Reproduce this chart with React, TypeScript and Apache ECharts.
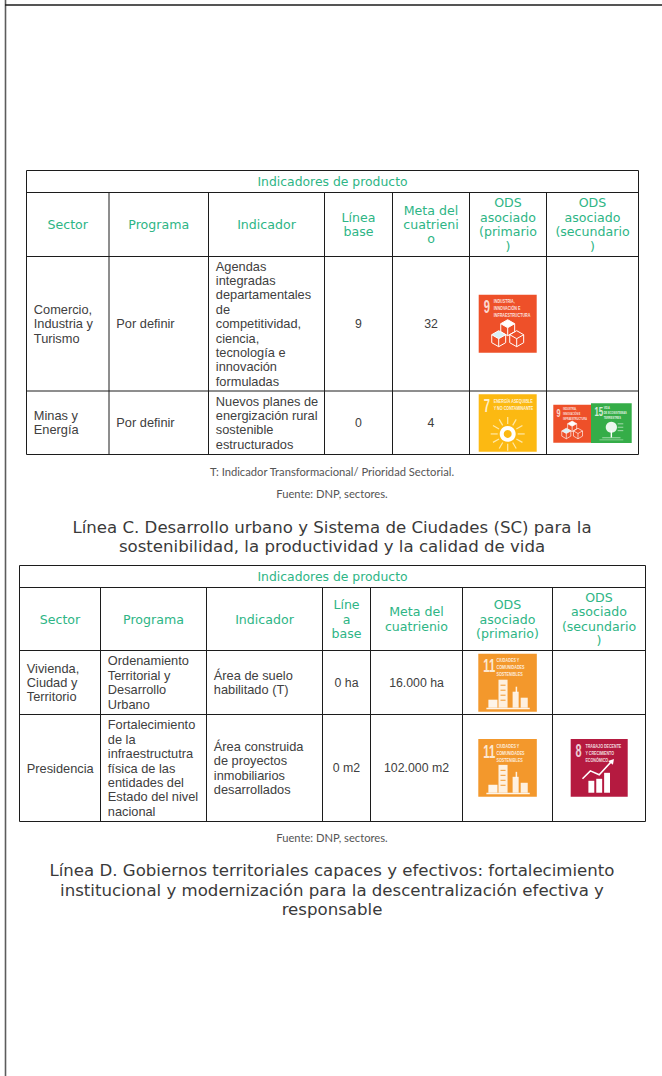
import React, { useEffect, useRef } from "react";
import * as echarts from "echarts";

// ---- content ----
const tableTitle = "Indicadores de producto";
const headers1 = ["Sector", "Programa", "Indicador", "Línea\nbase", "Meta del\ncuatrieni\no", "ODS\nasociado\n(primario\n)", "ODS\nasociado\n(secundario\n)"];
const headers2 = ["Sector", "Programa", "Indicador", "Líne\na\nbase", "Meta del\ncuatrienio", "ODS\nasociado\n(primario)", "ODS\nasociado\n(secundario\n)"];
const rows1 = [
  ["Comercio,\nIndustria y\nTurismo", "Por definir", "Agendas\nintegradas\ndepartamentales\nde\ncompetitividad,\nciencia,\ntecnología e\ninnovación\nformuladas", "9", "32"],
  ["Minas y\nEnergía", "Por definir", "Nuevos planes de\nenergización rural\nsostenible\nestructurados", "0", "4"],
];
const rows2 = [
  ["Vivienda,\nCiudad y\nTerritorio", "Ordenamiento\nTerritorial y\nDesarrollo\nUrbano", "Área de suelo\nhabilitado (T)", "0 ha", "16.000 ha"],
  ["Presidencia", "Fortalecimiento\nde la\ninfraestructutra\nfísica de las\nentidades del\nEstado del nivel\nnacional", "Área construida\nde proyectos\ninmobiliarios\ndesarrollados", "0 m2", "102.000 m2"],
];
const headingC = ["Línea C. Desarrollo urbano y Sistema de Ciudades (SC) para la", "sostenibilidad, la productividad y la calidad de vida"];
const headingD = ["Línea D. Gobiernos territoriales capaces y efectivos: fortalecimiento", "institucional y modernización para la descentralización efectiva y", "responsable"];
const noteT = "T: Indicador Transformacional/ Prioridad Sectorial.";
const noteSource = "Fuente: DNP, sectores.";
const sdgNames: Record<string, string[]> = {
  "7": ["ENERGÍA ASEQUIBLE", "Y NO CONTAMINANTE"],
  "8": ["TRABAJO DECENTE", "Y CRECIMIENTO", "ECONÓMICO"],
  "9": ["INDUSTRIA,", "INNOVACIÓN E", "INFRAESTRUCTURA"],
  "11": ["CIUDADES Y", "COMUNIDADES", "SOSTENIBLES"],
  "15": ["VIDA", "DE ECOSISTEMAS", "TERRESTRES"],
};
const sdgColors: Record<string, string> = { "7": "#fcb912", "8": "#b51a40", "9": "#ee5029", "11": "#f3982c", "15": "#35ad48" };

// ---- layout ----
const GREEN = "#2eb585";
const BODY = "#404040";
const LINE = "#1c1c1c";
const BODY_FONT = "Liberation Sans";
const HEAD_FONT = "DejaVu Sans";
const NOTE_FONT = "Lato";
const BODY_SIZE = 12.8;
const NUM_SIZE = 12.3;
const HEAD_SIZE = 12.6;
const TITLE_SIZE = 12.4;
const HEADING_SIZE = 16.6;
const NOTE_SIZE = 11.2;
const LH = 14.4;

const xs1 = [26.5, 109, 208.5, 324.5, 392.5, 469.5, 546.5, 638.5];
const ys1 = [170.5, 192.5, 256.5, 391, 454.5];
const xs2 = [19.5, 100.5, 206.5, 322.5, 370.5, 462.5, 552.5, 645.5];
const ys2 = [565.5, 587.5, 650.5, 714.5, 821.5];

const line = (x1: number, y1: number, x2: number, y2: number, stroke = LINE, lineWidth = 1) => ({
  type: "line", silent: true, shape: { x1, y1, x2, y2 }, style: { stroke, lineWidth },
});

const textBlock = (str: string, x: number, cy: number, align: string, fill: string, size: number, family: string, lh = LH) => {
  const parts = str.split("\n");
  const top = cy - ((parts.length - 1) * lh) / 2;
  return parts.map((t, i) => ({
    type: "text", silent: true,
    style: { text: t, x, y: top + i * lh, align, verticalAlign: "middle", fill, fontSize: size, fontFamily: family },
  }));
};

function table(xs: number[], ys: number[], headers: string[], rows: string[][]) {
  const out: any[] = [];
  const L = xs[0], R = xs[xs.length - 1];
  ys.forEach((y) => out.push(line(L, y, R, y)));
  out.push(line(L, ys[0], L, ys[ys.length - 1]), line(R, ys[0], R, ys[ys.length - 1]));
  xs.slice(1, -1).forEach((x) => out.push(line(x, ys[1], x, ys[ys.length - 1])));
  out.push(...textBlock(tableTitle, (L + R) / 2, (ys[0] + ys[1]) / 2, "center", GREEN, TITLE_SIZE, HEAD_FONT));
  headers.forEach((h, i) => {
    out.push(...textBlock(h, (xs[i] + xs[i + 1]) / 2, (ys[1] + ys[2]) / 2, "center", GREEN, HEAD_SIZE, HEAD_FONT));
  });
  rows.forEach((row, r) => {
    const cy = (ys[r + 2] + ys[r + 3]) / 2;
    row.forEach((cell, c) => {
      if (c < 3) out.push(...textBlock(cell, xs[c] + 7.3, cy, "left", BODY, BODY_SIZE, BODY_FONT));
      else out.push(...textBlock(cell, (xs[c] + xs[c + 1]) / 2, cy, "center", BODY, NUM_SIZE, BODY_FONT));
    });
  });
  return out;
}

// Pictograms drawn in a 58-unit square.
function pictogram(id: string) {
  const W = "#ffffff";
  const fl = (x: number, y: number, w: number, h: number, o = 1) => ({ type: "rect", shape: { x, y, width: w, height: h }, style: { fill: W, opacity: o } });
  const poly = (pts: number[][], fill: string | null, lw = 1) => ({ type: "polyline", shape: { points: pts }, style: { stroke: W, lineWidth: lw, fill: fill || "none" } });
  const cube = (cx: number, cy: number, r: number, top: string | null) => {
    const d = r * 0.87, h = r * 0.5;
    return [
      { type: "polygon", shape: { points: [[cx, cy - r], [cx + d, cy - h], [cx, cy], [cx - d, cy - h]] }, style: { fill: top || "none", stroke: W, lineWidth: 1 } },
      poly([[cx - d, cy - h], [cx - d, cy + h], [cx, cy + r], [cx + d, cy + h], [cx + d, cy - h]], null),
      line(cx, cy, cx, cy + r, W, 1),
    ];
  };
  if (id === "9") return [...cube(29, 33, 8, "#ffffff"), ...cube(20, 44, 8, "#d9f0f7"), ...cube(38, 44, 8, null)];
  if (id === "7") {
    const rays: any[] = [];
    [0, 30, 60, 90, 120, 150, 180, 210, 240, 270, 300, 330].forEach((deg) => {
      const a = (deg * Math.PI) / 180;
      rays.push(line(29 + 10 * Math.cos(a), 40 + 10 * Math.sin(a), 29 + 17 * Math.cos(a), 40 + 17 * Math.sin(a), "#ffe9a8", 1.2));
    });
    return [...rays, { type: "ring", shape: { cx: 29, cy: 40, r: 8, r0: 4 }, style: { fill: W } }];
  }
  if (id === "11") return [
    fl(20, 26, 9, 28, 0.85), fl(34, 38, 6, 16, 0.85), fl(37, 33, 1.5, 6, 0.85),
    fl(10, 46, 9, 8, 0.9), fl(42, 44, 7, 10, 0.85), fl(8, 54, 43, 1.5, 0.9),
    { type: "rect", shape: { x: 22, y: 31, width: 5, height: 1 }, style: { fill: sdgColors["11"] } },
    { type: "rect", shape: { x: 22, y: 36, width: 5, height: 1 }, style: { fill: sdgColors["11"] } },
    { type: "rect", shape: { x: 22, y: 41, width: 5, height: 1 }, style: { fill: sdgColors["11"] } },
    { type: "rect", shape: { x: 22, y: 46, width: 5, height: 1 }, style: { fill: sdgColors["11"] } },
  ];
  if (id === "8") return [
    fl(18, 42, 6, 12), fl(26, 40, 6, 14), fl(34, 34, 6, 20),
    poly([[12, 40], [20, 32], [29, 36], [42, 22]], null, 1.6),
    { type: "polygon", shape: { points: [[38, 22], [44, 20], [43, 26]] }, style: { fill: W } },
  ];
  return [
    { type: "circle", shape: { cx: 29, cy: 35, r: 8 }, style: { fill: W, opacity: 0.9 } },
    fl(28, 40, 2, 10), fl(16, 50, 26, 1, 0.8), fl(12, 53, 34, 1, 0.6),
    line(38, 30, 46, 30, W, 0.8), line(38, 35, 46, 35, W, 0.8), line(38, 40, 46, 40, W, 0.8),
  ];
}

function sdgIcon(id: string, x: number, y: number, w: number, h: number) {
  const two = id.length > 1;
  return {
    type: "group", silent: true, x, y, scaleX: w / 58, scaleY: h / 58,
    children: [
      { type: "rect", shape: { x: 0, y: 0, width: 58, height: 58 }, style: { fill: sdgColors[id] } },
      {
        type: "text", x: 5, y: 12, scaleX: 0.62,
        style: { text: id, x: 0, y: 0, verticalAlign: "middle", fill: "#ffffff", opacity: 0.8, fontSize: 18, fontWeight: "bold", fontFamily: "Liberation Sans" },
      },
      ...sdgNames[id].map((t, i) => ({
        type: "text", x: two ? 18 : 15, y: 7 + i * 7, scaleX: 0.66,
        style: { text: t, x: 0, y: 0, verticalAlign: "middle", fill: "#ffffff", opacity: 0.85, fontSize: 5.6, fontWeight: "bold", fontFamily: "Liberation Sans" },
      })),
      ...pictogram(id),
    ],
  };
}

function buildGraphics() {
  const g: any[] = [];
  // page frame
  g.push(line(5.5, 0, 5.5, 1076, "#5c5c5c", 1.6), line(5, 5, 662, 5, "#1c1c1c", 1.4));
  g.push(...table(xs1, ys1, headers1, rows1));
  g.push(...table(xs2, ys2, headers2, rows2));
  g.push(...textBlock(noteT, 332, 471, "center", "#555555", NOTE_SIZE, NOTE_FONT));
  g.push(...textBlock(noteSource, 332, 493, "center", "#555555", NOTE_SIZE, NOTE_FONT));
  g.push(...textBlock(noteSource, 332, 837, "center", "#555555", NOTE_SIZE, NOTE_FONT));
  g.push(...textBlock(headingC.join("\n"), 332, 537, "center", "#3a3a3a", HEADING_SIZE, HEAD_FONT, 19.4));
  g.push(...textBlock(headingD.join("\n"), 332, 890, "center", "#3a3a3a", HEADING_SIZE, HEAD_FONT, 19.2));
  g.push(sdgIcon("9", 478.7, 294.7, 58, 58));
  g.push(sdgIcon("7", 478.7, 394.3, 58, 57.5));
  g.push(sdgIcon("9", 553.3, 404.7, 37.7, 38));
  g.push(sdgIcon("15", 591, 403.3, 40.7, 39.7));
  g.push(sdgIcon("11", 478.3, 653.7, 58.5, 58));
  g.push(sdgIcon("11", 478.3, 739, 58.5, 57.7));
  g.push(sdgIcon("8", 570.7, 739, 57, 57.7));
  return g;
}

export default function App() {
  const ref = useRef<HTMLDivElement>(null);
  useEffect(() => {
    const chart = echarts.init(ref.current!, null, { renderer: "svg" });
    chart.setOption({ animation: false, backgroundColor: "#ffffff", graphic: { elements: buildGraphics() } });
    return () => chart.dispose();
  }, []);
  return <div ref={ref} style={{ position: "fixed", left: 0, top: 0, width: 662, height: 1076 }} />;
}
